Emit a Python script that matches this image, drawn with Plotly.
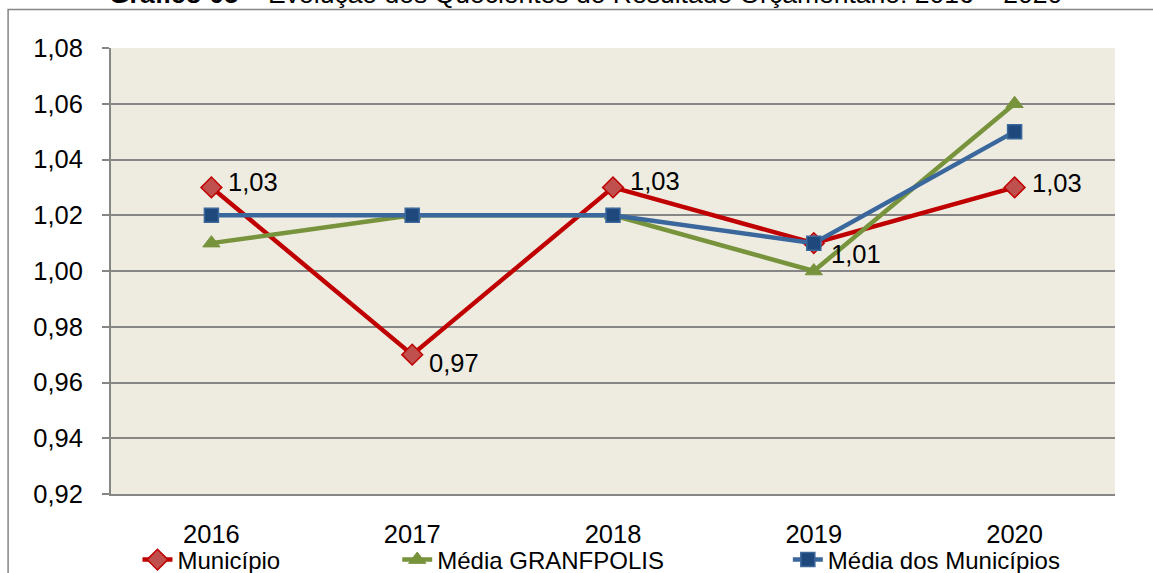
import plotly.graph_objects as go

years = ["2016", "2017", "2018", "2019", "2020"]
municipio = [1.03, 0.97, 1.03, 1.01, 1.03]
media_granfpolis = [1.01, 1.02, 1.02, 1.00, 1.06]
media_municipios = [1.02, 1.02, 1.02, 1.01, 1.05]
label_yshift = [5, -8, 6, -11, 4]

FONT = "Liberation Sans, Arial, sans-serif"
FS = 25.5
W, H = 1153, 573
L, R, T, B = 110.5, 37.5, 48, 79
PW, PH = W - L - R, H - T - B

def px(x):
    return (x - L) / PW

def py(y):
    return (H - B - y) / PH

fig = go.Figure()
fig.add_trace(go.Scatter(
    x=years, y=municipio, name="Município", mode="lines+markers",
    line=dict(color="#C00000", width=4.5),
    marker=dict(symbol="diamond", size=16, color="#C0504D", line=dict(color="#C00000", width=1.5)),
    legend="legend",
))
fig.add_trace(go.Scatter(
    x=years, y=media_granfpolis, name="Média GRANFPOLIS", mode="lines+markers",
    line=dict(color="#77933C", width=4.5),
    marker=dict(symbol="triangle-up", size=15, color="#77933C", line=dict(color="#77933C", width=1)),
    legend="legend2",
))
fig.add_trace(go.Scatter(
    x=years, y=media_municipios, name="Média dos Municípios", mode="lines+markers",
    line=dict(color="#3A679C", width=4.5),
    marker=dict(symbol="square", size=14, color="#1F497D", line=dict(color="#3A679C", width=1.5)),
    legend="legend3",
))

for i, (v, ys) in enumerate(zip(municipio, label_yshift)):
    fig.add_annotation(
        x=i, y=v, xref="x", yref="y", text=f"{v:.2f}".replace(".", ","),
        showarrow=False, xanchor="left", yanchor="middle", xshift=15, yshift=ys,
        font=dict(family=FONT, size=FS, color="#000000"),
    )

fig.add_annotation(
    x=px(585), y=py(11), xref="paper", yref="paper", showarrow=False,
    xanchor="center", yanchor="bottom",
    text="<b>Gráfico 05</b> – Evolução dos Quocientes do Resultado Orçamentário: 2016 – 2020",
    font=dict(family=FONT, size=26.5, color="#000000"),
)

fig.add_shape(
    type="rect", xref="paper", yref="paper",
    x0=px(7.5), x1=px(1200), y0=py(9.5), y1=py(620),
    line=dict(color="#868686", width=1.5), fillcolor="rgba(0,0,0,0)", layer="below",
)

legfont = dict(family=FONT, size=24, color="#000000")
common = dict(orientation="h", yanchor="middle", xanchor="left", font=legfont,
              bgcolor="rgba(0,0,0,0)", borderwidth=0, y=py(560))

fig.update_layout(
    width=W, height=H,
    margin=dict(l=L, r=R, t=T, b=B, pad=0, autoexpand=False),
    paper_bgcolor="#FFFFFF",
    plot_bgcolor="#EEECE1",
    separators=",.",
    font=dict(family=FONT, size=FS, color="#000000"),
    showlegend=True,
    legend=dict(x=px(137), **common),
    legend2=dict(x=px(397), **common),
    legend3=dict(x=px(788), **common),
    xaxis=dict(
        type="category", showgrid=False, zeroline=False,
        showline=True, linecolor="#868686", linewidth=2,
        ticks="", ticklabelstandoff=16,
        tickfont=dict(family=FONT, size=FS, color="#000000"),
        range=[-0.5, 4.5],
    ),
    yaxis=dict(
        range=[0.92, 1.08], dtick=0.02, tick0=0.92, tickformat=".2f",
        showgrid=True, gridcolor="#868686", gridwidth=1.5,
        zeroline=False, showline=True, linecolor="#868686", linewidth=2,
        ticks="outside", ticklen=7, tickcolor="#868686", tickwidth=1.5,
        ticklabelstandoff=14,
        tickfont=dict(family=FONT, size=FS, color="#000000"),
    ),
)

fig.write_html(
    "out.html",
    config={"displayModeBar": False},
    post_script="document.body.style.margin='0';document.body.style.overflow='hidden';",
)
